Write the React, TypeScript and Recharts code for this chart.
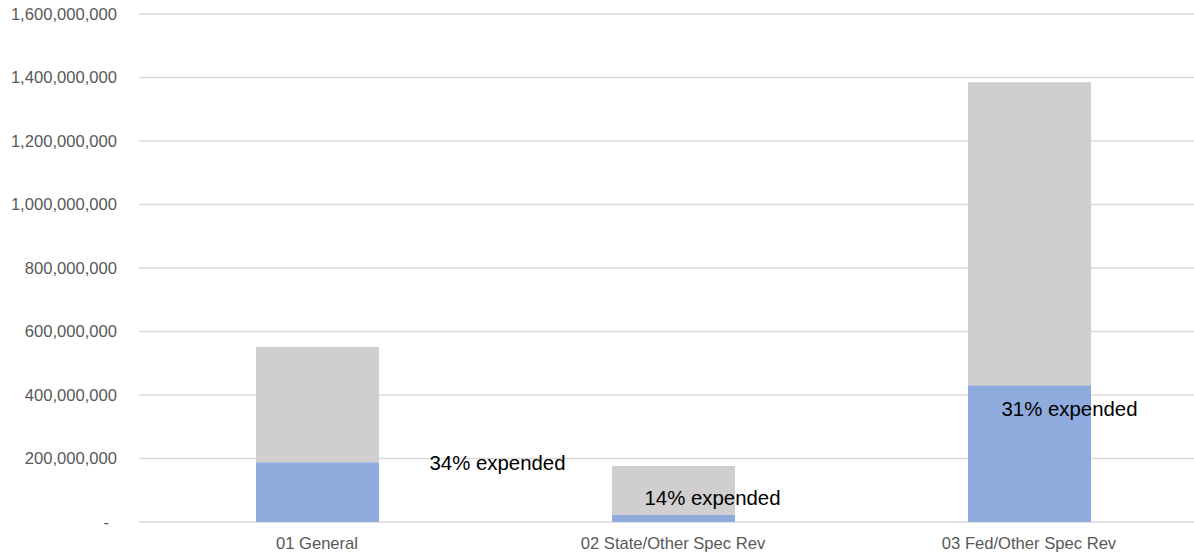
import { Bar, BarChart, CartesianGrid, LabelList, XAxis, YAxis } from 'recharts'

const categories = ['01 General', '02 State/Other Spec Rev', '03 Fed/Other Spec Rev']
const expended = [188000000, 24000000, 431000000]
const remaining = [363000000, 152000000, 954000000]
const pctLabels = ['34% expended', '14% expended', '31% expended']
const yTicks = [0, 200000000, 400000000, 600000000, 800000000, 1000000000, 1200000000, 1400000000, 1600000000]

// manual nudges for the data labels (they were dragged around in the original)
const labelShift = [
  { dx: 180, dy: 1 },
  { dx: 39, dy: -16 },
  { dx: 40, dy: 24 },
]

const FONT = '"Liberation Sans", Arial, sans-serif'
const TICK_COLOR = '#595959'

const data = categories.map((name, i) => ({
  name,
  expended: expended[i],
  remaining: remaining[i],
}))

function YTick(props: any) {
  const { x, y, payload } = props
  const v = payload.value as number
  const text = v === 0 ? '-' : v.toLocaleString('en-US')
  return (
    <text
      x={v === 0 ? x - 8 : x}
      y={y}
      dy="0.35em"
      textAnchor="end"
      fill={TICK_COLOR}
      fontSize={16.6}
      fontFamily={FONT}
    >
      {text}
    </text>
  )
}

function PctLabel(props: any) {
  const { x, y, width, index } = props
  const s = labelShift[index]
  return (
    <text
      x={x + width / 2 + s.dx}
      y={y + s.dy}
      textAnchor="middle"
      dominantBaseline="central"
      fill="#000"
      fontSize={20.4}
      fontFamily={FONT}
    >
      {pctLabels[index]}
    </text>
  )
}

export default function App() {
  return (
    <div
      style={{
        position: 'absolute',
        left: 0,
        top: 0,
        width: 1194,
        height: 559,
        overflow: 'hidden',
        background: '#fff',
      }}
    >
      <BarChart
        width={1207}
        height={559}
        data={data}
        margin={{ top: 14, right: 0, bottom: 0, left: 0 }}
        barSize={123}
      >
        <CartesianGrid vertical={false} stroke="#D9D9D9" strokeWidth={1.3} />
        <XAxis
          dataKey="name"
          axisLine={false}
          tickLine={false}
          tickSize={0}
          tickMargin={15}
          height={37}
          tick={{ fill: TICK_COLOR, fontSize: 16.6, fontFamily: FONT }}
        />
        <YAxis
          width={139}
          domain={[0, 1600000000]}
          ticks={yTicks}
          axisLine={false}
          tickLine={false}
          tickSize={0}
          tickMargin={22}
          tick={<YTick />}
        />
        <Bar dataKey="expended" stackId="s" fill="#8FAADC" isAnimationActive={false}>
          <LabelList dataKey="expended" content={<PctLabel />} />
        </Bar>
        <Bar dataKey="remaining" stackId="s" fill="#D0CECE" isAnimationActive={false} />
      </BarChart>
    </div>
  )
}
